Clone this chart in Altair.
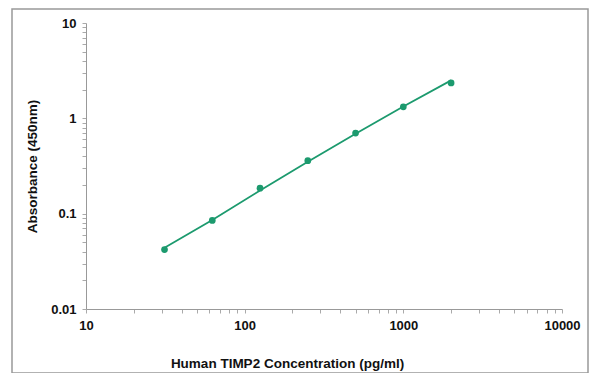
import altair as alt
import pandas as pd

conc = [31.25, 62.5, 125, 250, 500, 1000, 2000]
absorb = [0.042, 0.085, 0.185, 0.36, 0.70, 1.32, 2.35]
fit = [0.044, 0.086, 0.175, 0.35, 0.69, 1.33, 2.50]

x_ticks = [10, 20, 30, 40, 50, 60, 70, 80, 90, 100, 200, 300, 400, 500, 600, 700, 800, 900,
           1000, 2000, 3000, 4000, 5000, 6000, 7000, 8000, 9000, 10000]
y_ticks = [0.01, 0.02, 0.03, 0.04, 0.05, 0.06, 0.07, 0.08, 0.09, 0.1, 0.2, 0.3, 0.4, 0.5, 0.6,
           0.7, 0.8, 0.9, 1, 2, 3, 4, 5, 6, 7, 8, 9, 10]

df = pd.DataFrame({"conc": conc, "abs": absorb, "fit": fit})

GREEN = "#1c9a6e"
FONT = "Liberation Sans"

xscale = alt.Scale(type="log", domain=[10, 10000])
yscale = alt.Scale(type="log", domain=[0.01, 10])

xaxis = alt.Axis(values=x_ticks, title="Human TIMP2 Concentration (pg/ml)",
                 labelExpr="indexof(['10','100','1000','10000'], format(datum.value, 'd')) >= 0 ? format(datum.value, 'd') : ''",
                 grid=False, tickSize=4, labelPadding=6, titleX=201, titleY=47,
                 titleAnchor="middle", titleAlign="center")
yaxis = alt.Axis(values=y_ticks, title="Absorbance (450nm)",
                 labelExpr="indexof(['0.01','0.1','1','10'], format(datum.value, '')) >= 0 ? format(datum.value, '') : ''",
                 grid=False, tickSize=4, labelPadding=6, titleX=-54, titleY=143,
                 titleAlign="center", titleBaseline="middle")

line = alt.Chart(df).mark_line(color=GREEN, strokeWidth=1.8).encode(
    x=alt.X("conc:Q", scale=xscale, axis=xaxis),
    y=alt.Y("fit:Q", scale=yscale, axis=yaxis),
)
pts = alt.Chart(df).mark_circle(color=GREEN, size=45, opacity=1).encode(
    x=alt.X("conc:Q", scale=xscale),
    y=alt.Y("abs:Q", scale=yscale),
)
border = alt.Chart(pd.DataFrame({"a": [0]})).mark_rect(
    fill="transparent", stroke="#999999", strokeWidth=1.5
).encode(x=alt.value(-74), x2=alt.value(502), y=alt.value(-14), y2=alt.value(350))

chart = alt.layer(border, line, pts).properties(
    width=476, height=286,
    autosize=alt.AutoSizeParams(type="none"),
    padding={"left": 78, "top": 15, "right": 30, "bottom": 64},
).configure_view(strokeWidth=0).configure_axis(
    labelFont=FONT, labelFontWeight="bold", labelFontSize=13, labelColor="#111111",
    titleFont=FONT, titleFontWeight="bold", titleFontSize=13.5, titleColor="#111111",
    domainColor="#999999", tickColor="#aaaaaa", labelOverlap=False, labelFlush=False,
)

chart.save("out.html", embed_options={"renderer": "svg", "actions": False})
